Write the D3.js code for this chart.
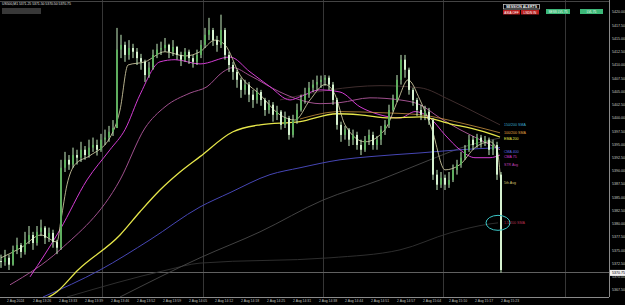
<!DOCTYPE html>
<html>
<head>
<meta charset="utf-8">
<script src="https://cdn.jsdelivr.net/npm/d3@7"></script>
<style>
  html, body { margin: 0; padding: 0; background: #000; overflow: hidden; }
  svg { display: block; }
  text { font-family: "Liberation Sans", Arial, sans-serif; }
</style>
</head>
<body>
<div id="chart"></div>
<script>
// price bars (open = previous close)
const firstOpen = 5373.0;
const closes = [5372.8,5373.6,5372.3,5375.1,5376.0,5374.7,5377.0,5377.9,5376.4,5378.5,
  5379.3,5377.4,5378.3,5376.6,5375.5,5390.6,5392.1,5391.2,5393.0,5392.5,
  5394.0,5393.0,5394.4,5394.9,5394.0,5395.9,5396.3,5397.4,5398.1,5412.9,
  5413.8,5411.9,5413.2,5412.5,5411.3,5410.6,5408.1,5409.5,5411.9,5412.9,
  5413.2,5413.8,5412.5,5413.4,5411.9,5411.0,5412.5,5411.3,5410.6,5411.9,
  5413.8,5415.7,5416.6,5414.7,5413.8,5416.6,5411.9,5410.0,5408.7,5407.2,
  5405.3,5406.3,5404.4,5403.4,5404.9,5403.4,5401.5,5402.5,5400.6,5401.2,
  5398.7,5400.0,5396.8,5399.6,5401.5,5403.4,5404.4,5405.7,5406.3,5406.8,
  5407.2,5407.6,5406.3,5403.4,5398.7,5396.8,5397.8,5395.9,5396.8,5394.9,
  5394.0,5395.9,5396.8,5394.9,5395.9,5397.8,5398.7,5401.5,5403.4,5407.2,
  5411.0,5409.1,5405.3,5403.4,5401.5,5400.6,5401.2,5399.6,5389.3,5387.4,
  5388.7,5387.4,5388.3,5390.2,5391.2,5392.5,5394.0,5395.9,5394.9,5396.3,
  5395.5,5395.9,5394.0,5394.9,5389.3,5371.3];
const highs = [5374.2,5375.1,5374.2,5375.9,5377.4,5376.4,5378.5,5379.6,5378.5,5379.6,
  5380.8,5379.6,5379.3,5378.9,5377.0,5392.1,5393.6,5393.0,5394.4,5394.0,
  5395.5,5394.7,5395.9,5396.3,5395.9,5397.0,5397.8,5398.5,5399.6,5417.0,
  5415.7,5414.4,5414.7,5414.0,5413.2,5412.1,5411.0,5410.6,5412.9,5414.0,
  5414.4,5415.1,5414.0,5414.7,5413.6,5412.5,5413.2,5412.9,5411.9,5412.9,
  5414.7,5417.0,5418.9,5417.0,5415.5,5419.5,5417.0,5412.5,5410.6,5409.1,
  5407.6,5407.2,5406.8,5405.3,5405.7,5405.3,5403.8,5403.4,5403.0,5402.3,
  5401.5,5401.2,5400.4,5400.6,5402.7,5404.4,5405.7,5406.8,5407.2,5408.0,
  5408.0,5408.1,5408.0,5406.8,5403.8,5399.3,5398.5,5398.1,5397.8,5397.4,
  5395.9,5396.6,5397.8,5397.4,5396.6,5398.5,5399.6,5402.5,5404.4,5408.1,
  5411.9,5411.9,5409.5,5405.7,5403.8,5402.5,5402.3,5401.9,5400.0,5390.2,
  5389.8,5389.3,5389.8,5391.2,5392.1,5393.6,5394.9,5396.8,5396.6,5397.0,
  5396.8,5396.6,5396.3,5395.9,5395.5,5389.8];
const lows = [5371.7,5372.1,5371.3,5372.1,5374.3,5373.6,5374.2,5376.2,5375.1,5375.9,
  5377.7,5376.2,5376.6,5375.5,5374.3,5375.1,5389.8,5390.2,5390.6,5391.2,
  5391.7,5392.1,5392.5,5393.6,5392.9,5393.6,5394.9,5395.5,5396.6,5398.1,
  5411.3,5410.6,5411.0,5411.3,5410.0,5409.1,5406.8,5407.6,5409.1,5411.3,
  5411.9,5412.5,5411.3,5411.7,5411.0,5409.8,5410.6,5410.2,5409.5,5410.0,
  5411.3,5413.2,5414.7,5413.6,5412.5,5413.2,5411.0,5408.7,5407.2,5405.7,
  5403.8,5404.4,5403.0,5401.9,5402.7,5402.3,5400.4,5400.8,5399.3,5399.6,
  5397.8,5398.1,5395.9,5396.3,5398.9,5401.2,5402.7,5403.8,5404.9,5405.3,
  5405.7,5406.1,5405.3,5402.5,5397.8,5395.5,5395.9,5394.7,5394.9,5394.0,
  5393.0,5393.6,5394.9,5394.0,5394.0,5394.9,5396.8,5398.1,5401.2,5403.0,
  5406.3,5407.6,5404.4,5402.3,5400.4,5399.6,5399.6,5398.7,5388.3,5386.4,
  5386.8,5386.4,5386.8,5387.9,5389.3,5390.6,5392.1,5393.6,5394.0,5394.4,
  5394.4,5394.7,5393.0,5393.0,5388.3,5370.8];

// moving averages: [bar index, price]
const ema200 = [[7.25,5364.7],[14,5367.2],[19.25,5371.3],[29.75,5377.9],[34.75,5382.3],
  [39.75,5386.4],[44.75,5389.8],[49.75,5392.7],[58,5397.4],[64.75,5398.7],[74.75,5399.3],
  [84,5400.8],[89.75,5400.6],[97.25,5400.0],[104.75,5400.2],[112.25,5398.9],[119.75,5397.6],[124.75,5396.4]];
const sma100 = [[74.75,5399.8],[84.75,5401.2],[94.75,5401.0],[104.75,5400.6],[114.75,5399.1],[124.75,5397.2]];
const sma150 = [[69.75,5403.4],[82.25,5405.3],[94.75,5406.1],[104.75,5405.7],[112.25,5403.4],[119.75,5400.6],[124.75,5398.7]];
const cma75 = [[7.25,5370.0],[14.75,5378.9],[21.5,5388.3],[27.25,5394.0],[31,5397.8],[34.75,5404.4],
  [39.75,5410.6],[43.5,5411.0],[49.75,5410.2],[57.25,5411.5],[62.25,5408.7],[67.25,5405.9],
  [72.25,5403.4],[74.75,5404.0],[79.75,5405.3],[84.75,5404.9],[89.75,5402.1],[94.75,5400.6],
  [99.75,5400.0],[103.5,5401.2],[107.25,5400.0],[111,5396.8],[114.75,5394.0],[118.5,5392.5],
  [122.25,5392.5],[124.75,5393.0]];
const strAvg = [[2.25,5368.5],[14.75,5375.1],[29.75,5388.3],[36,5398.1],[41,5402.1],[47.25,5404.7],
  [51.5,5405.9],[55.5,5408.7],[58,5409.5],[62.25,5408.0],[69.75,5404.9],[74.75,5403.4],
  [79.75,5402.7],[84.75,5402.9],[92.25,5403.8],[99.75,5403.4],[104.75,5402.5],[109.75,5400.0],
  [114.75,5397.8],[119.75,5395.9],[124.75,5394.0]];
const cma400 = [[10.5,5366.2],[24.75,5371.3],[37.25,5377.0],[49.75,5383.2],[57.25,5385.9],
  [67.25,5389.3],[74.75,5390.6],[84.75,5392.1],[92.25,5392.7],[104.75,5393.4],[114.75,5394.0],[124.75,5394.4]];
const sma800 = [[29.75,5366.2],[49.75,5373.6],[64.75,5378.5],[80.5,5384.5],[94.75,5388.3],
  [107.25,5392.1],[117.25,5394.9],[124.75,5396.2]];
const sma1500 = [[16.5,5366.2],[41.5,5371.3],[49.75,5372.6],[82.25,5373.6],[99.75,5375.1],
  [112.25,5378.3],[122.25,5380.0],[124.25,5380.2]];
const fastAvg = [[0,5373.6],[5,5375.5],[10,5377.9],[14,5376.6],[15,5380.8],[16.5,5387.4],
  [18.5,5391.2],[22.25,5392.9],[27.25,5396.3],[29.75,5401.5],[31.75,5410.0],[36,5410.6],
  [41,5412.5],[46,5411.7],[49.75,5412.5],
  [53.5,5414.7],[56,5413.8],[59.75,5408.1],[64.75,5404.4],[69.75,5400.6],[73.5,5399.6],
  [77.25,5403.4],[81,5406.3],[83.5,5404.4],[86,5398.7],[91,5395.5],[96,5397.8],[99.25,5403.4],
  [101.75,5407.2],[104.75,5403.4],[107.75,5397.8],[111,5390.2],[114.75,5391.2],[118.5,5394.4],
  [122.25,5395.5],[124,5394.0],[125,5387.4]];

const priceTicks = [5420.00,5417.50,5415.00,5412.50,5410.00,5407.50,5405.00,5402.50,5400.00,5397.50,
  5395.00,5392.50,5390.00,5387.50,5385.00,5382.50,5380.00,5377.50,5375.00,5372.50,5370.00,5367.50];
const timeLabels = ["2 Aug 2024","2 Aug 13:26","2 Aug 13:33","2 Aug 13:39","2 Aug 13:46","2 Aug 13:52",
  "2 Aug 13:59","2 Aug 14:05","2 Aug 14:12","2 Aug 14:18","2 Aug 14:25","2 Aug 14:31","2 Aug 14:38",
  "2 Aug 14:44","2 Aug 14:51","2 Aug 14:57","2 Aug 15:04","2 Aug 15:10","2 Aug 15:17","2 Aug 15:23"];
const separators = [25.25, 50.5, 80.5, 110.5, 141];
const lastPrice = 5370.75;

const W = 625, H = 305, plotR = 609, plotB = 297;
const x = d3.scaleLinear().domain([0, 125]).range([1, 501]);
const y = d3.scaleLinear().domain([5366.2, 5422.27]).range([plotB, 0]);

const svg = d3.select("#chart").append("svg").attr("width", W).attr("height", H)
  .style("background", "#000");

svg.append("defs").append("clipPath").attr("id", "plot")
  .append("rect").attr("x", 0).attr("y", 0).attr("width", plotR).attr("height", plotB);

const plot = svg.append("g").attr("clip-path", "url(#plot)");

// period separators and frame
plot.selectAll(".sep").data(separators).enter().append("line")
  .attr("x1", d => Math.round(x(d)) + 0.5).attr("x2", d => Math.round(x(d)) + 0.5)
  .attr("y1", 0).attr("y2", plotB).attr("stroke", "#363636").attr("stroke-width", 1);

svg.append("line").attr("x1", 0).attr("x2", plotR).attr("y1", 1.5).attr("y2", 1.5).attr("stroke", "#444");
svg.append("line").attr("x1", 0).attr("x2", plotR).attr("y1", plotB + 0.5).attr("y2", plotB + 0.5).attr("stroke", "#8a8a8a");
svg.append("line").attr("x1", plotR + 0.5).attr("x2", plotR + 0.5).attr("y1", 0).attr("y2", plotB).attr("stroke", "#8a8a8a");

// bid line
plot.append("line").attr("x1", 0).attr("x2", plotR)
  .attr("y1", Math.round(y(lastPrice)) - 0.5).attr("y2", Math.round(y(lastPrice)) - 0.5)
  .attr("stroke", "#606060").attr("stroke-width", 1);

// moving averages
const line = d3.line().x(d => x(d[0])).y(d => y(d[1])).curve(d3.curveMonotoneX);
const maList = [
  { data: sma1500, color: "#333333", w: 0.9 },
  { data: sma800, color: "#4a4a4a", w: 0.9 },
  { data: sma150, color: "#463232", w: 0.9 },
  { data: cma400, color: "#4646b4", w: 1 },
  { data: strAvg, color: "#a0508e", w: 1 },
  { data: cma75, color: "#d23cd2", w: 1 },
  { data: sma100, color: "#c89040", w: 0.8 },
  { data: ema200, color: "#e6e64a", w: 1.3 },
  { data: fastAvg, color: "#e2dcb0", w: 0.8 }
];
plot.selectAll(".ma").data(maList).enter().append("path")
  .attr("d", d => line(d.data)).attr("fill", "none")
  .attr("stroke", d => d.color).attr("stroke-width", d => d.w);

// candles
const bars = closes.map((c, i) => ({
  i: i, o: i === 0 ? firstOpen : closes[i - 1], c: c, h: highs[i], l: lows[i]
}));
const cg = plot.append("g");
cg.selectAll(".wick").data(bars).enter().append("line")
  .attr("x1", d => x(d.i)).attr("x2", d => x(d.i))
  .attr("y1", d => y(d.h)).attr("y2", d => y(d.l))
  .attr("stroke", "#c6eec0").attr("stroke-width", 1);
cg.selectAll(".body").data(bars).enter().append("rect")
  .attr("x", d => x(d.i) - 1).attr("width", 2)
  .attr("y", d => y(Math.max(d.o, d.c)))
  .attr("height", d => Math.max(1, Math.abs(y(d.o) - y(d.c))))
  .attr("fill", d => d.c >= d.o ? "#5fae5f" : "#d6f2d0");

// indicator labels
const maLabels = [
  { t: "150/200 SMA", c: "#3aa8d0", p: 5398.7 },
  { t: "100/200 SMA", c: "#e0a040", p: 5397.2 },
  { t: "EMA 200", c: "#e6e64a", p: 5396.1 },
  { t: "CMA 400", c: "#5a6ae0", p: 5393.6 },
  { t: "CMA 75", c: "#d23cd2", p: 5392.6 },
  { t: "STR Avg", c: "#c040b8", p: 5391.1 },
  { t: "5th Avg", c: "#d8c070", p: 5387.7 },
  { t: "1.5/200 SMA", c: "#b83050", p: 5380.2 }
];
svg.selectAll(".mal").data(maLabels).enter().append("text")
  .attr("x", 504).attr("y", d => y(d.p) + 1.2)
  .attr("font-size", 3.6).attr("fill", d => d.c).text(d => d.t);

svg.append("ellipse").attr("cx", x(124.25)).attr("cy", y(5380.2))
  .attr("rx", 12).attr("ry", 7.5).attr("fill", "none")
  .attr("stroke", "#3cc8c8").attr("stroke-width", 1);

// price axis
svg.selectAll(".pt").data(priceTicks).enter().append("text")
  .attr("x", 612).attr("y", d => y(d) + 1.3)
  .attr("font-size", 3.6).attr("fill", "#c8c8c8").text(d => d.toFixed(2));
svg.append("rect").attr("x", plotR + 1).attr("y", y(lastPrice) - 3).attr("width", 15).attr("height", 6).attr("fill", "#f0f0f0");
svg.append("text").attr("x", 612).attr("y", y(lastPrice) + 1.3)
  .attr("font-size", 3.6).attr("fill", "#000").text(lastPrice.toFixed(2));

// time axis
svg.selectAll(".tl").data(timeLabels).enter().append("text")
  .attr("x", (d, k) => x(1.5 + 6.5 * k)).attr("y", 302)
  .attr("font-size", 3.4).attr("fill", "#c0c0c0").text(d => d);

// header and panels
svg.append("text").attr("x", 2).attr("y", 4.5).attr("font-size", 3.4).attr("fill", "#e0e0e0")
  .text("US500,M1  5371.25 5371.50 5370.50 5370.75");
svg.append("rect").attr("x", 2).attr("y", 8).attr("width", 39).attr("height", 6).attr("fill", "#383838");

svg.append("rect").attr("x", 503.5).attr("y", 4.5).attr("width", 36).attr("height", 4.5)
  .attr("fill", "#000").attr("stroke", "#d0d0d0").attr("stroke-width", 0.7);
svg.append("text").attr("x", 521.5).attr("y", 8.2).attr("text-anchor", "middle")
  .attr("font-size", 3.6).attr("font-weight", "bold").attr("fill", "#fff").text("SESSION ALERTS");
const redBoxes = [{ x: 503, w: 17, t: "ASIA OFF" }, { x: 521, w: 18, t: "LNDN IN" }];
svg.selectAll(".rb").data(redBoxes).enter().append("rect")
  .attr("x", d => d.x).attr("y", 10).attr("width", d => d.w).attr("height", 4.5).attr("fill", "#b81c1c");
svg.selectAll(".rbt").data(redBoxes).enter().append("text")
  .attr("x", d => d.x + d.w / 2).attr("y", 13.5).attr("text-anchor", "middle")
  .attr("font-size", 3.2).attr("fill", "#fff").text(d => d.t);
const greenBoxes = [{ x: 546, w: 24, t: "SESS LVL 75" }, { x: 580, w: 23, t: "LVL 75" }];
svg.selectAll(".gb").data(greenBoxes).enter().append("rect")
  .attr("x", d => d.x).attr("y", 9).attr("width", d => d.w).attr("height", 5).attr("fill", "#3cb878");
svg.selectAll(".gbt").data(greenBoxes).enter().append("text")
  .attr("x", d => d.x + d.w / 2).attr("y", 12.7).attr("text-anchor", "middle")
  .attr("font-size", 3.2).attr("fill", "#e8fff0").text(d => d.t);
</script>
</body>
</html>
